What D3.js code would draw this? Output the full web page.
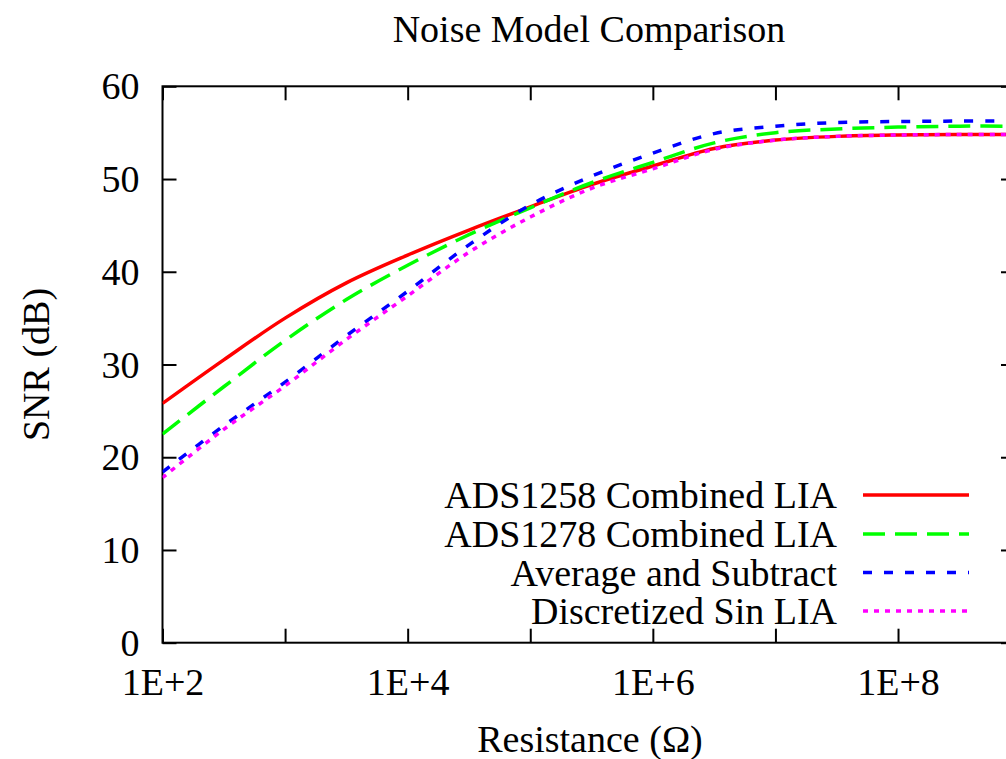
<!DOCTYPE html>
<html>
<head>
<meta charset="utf-8">
<script src="https://cdn.jsdelivr.net/npm/d3@7/dist/d3.min.js"></script>
<style>
  html, body { margin: 0; padding: 0; background: #fff; }
  svg { display: block; }
</style>
</head>
<body>
<svg id="chart" width="1006" height="759"></svg>
<script>
// Resistance sample points (ohms), half-decade steps
const resistance = [100, 316, 1000, 3162, 10000, 31623, 100000, 316228, 1000000,
  3162278, 10000000, 31622777, 100000000, 316227766, 1000000000];

// SNR (dB) for each noise model
const snrADS1258 = [25.8, 30.5, 35.0, 38.8, 41.8, 44.5, 47.0, 49.4, 51.4, 53.3, 54.2, 54.6, 54.75, 54.8, 54.8];
const snrADS1278 = [22.5, 27.6, 32.6, 37.0, 40.7, 44.0, 46.9, 49.6, 51.8, 53.9, 55.0, 55.4, 55.6, 55.7, 55.7];
const snrAvgSub  = [18.4, 23.4, 28.1, 33.1, 37.9, 42.9, 47.2, 50.3, 52.8, 54.9, 55.7, 56.1, 56.2, 56.25, 56.25];
const snrDiscSin = [17.8, 23.0, 27.7, 32.7, 37.4, 42.1, 45.9, 49.0, 51.1, 53.2, 54.2, 54.6, 54.75, 54.8, 54.8];

const seriesNames = ["ADS1258 Combined LIA", "ADS1278 Combined LIA", "Average and Subtract", "Discretized Sin LIA"];
const seriesColors = ["#ff0000", "#00ff00", "#0000ff", "#ff00ff"];
const seriesDashes = [null, "22,10", "9,12", "5,6"];

const xTickValues = [1e2, 1e3, 1e4, 1e5, 1e6, 1e7, 1e8];
const xTickLabels = ["1E+2", "", "1E+4", "", "1E+6", "", "1E+8"];
const yTickValues = [0, 10, 20, 30, 40, 50, 60];

const titleText = "Noise Model Comparison";
const xTitle = "Resistance (\u03A9)";
const yTitle = "SNR (dB)";

const svg = d3.select("#chart");
const fontSize = 38;
const fontFamily = "'Liberation Serif', 'Times New Roman', serif";

const plotLeft = 162.5, plotTop = 86.3, plotBottom = 642.7, plotRight = 1015;
const x = d3.scaleLog().domain([1e2, 9e8]).range([plotLeft, plotRight]);
const y = d3.scaleLinear().domain([0, 60]).range([plotBottom, plotTop]);

const tickLen = 14;

const label = sel => sel.style("font-family", fontFamily)
  .style("font-size", fontSize + "px").attr("fill", "#000");

// clip for plotted curves
svg.append("defs").append("clipPath").attr("id", "plotClip")
  .append("rect").attr("x", plotLeft).attr("y", plotTop)
  .attr("width", plotRight - plotLeft).attr("height", plotBottom - plotTop);

// axes (ticks point inward on all four sides)
const axisStyle = g => {
  g.attr("font-family", null).attr("font-size", null);
  g.select(".domain").remove();
  g.selectAll(".tick line").attr("stroke", "#000").attr("stroke-width", 2);
  g.selectAll(".tick text").call(label);
};

svg.append("g").attr("transform", `translate(0,${plotBottom})`)
  .call(d3.axisBottom(x).tickValues(xTickValues)
    .tickFormat((d, i) => xTickLabels[i]).tickSizeInner(-tickLen).tickSizeOuter(0).tickPadding(0))
  .call(axisStyle)
  .call(g => g.selectAll(".tick text").attr("y", 52).attr("dy", null));

svg.append("g").attr("transform", `translate(0,${plotTop})`)
  .call(d3.axisTop(x).tickValues(xTickValues).tickFormat("").tickSizeInner(-tickLen).tickSizeOuter(0))
  .call(axisStyle);

svg.append("g").attr("transform", `translate(${plotLeft},0)`)
  .call(d3.axisLeft(y).tickValues(yTickValues).tickFormat(d3.format("d"))
    .tickSizeInner(-tickLen).tickSizeOuter(0).tickPadding(0))
  .call(axisStyle)
  .call(g => g.selectAll(".tick text").attr("x", -23).attr("dy", "0.33em"));

svg.append("g").attr("transform", `translate(${plotRight},0)`)
  .call(d3.axisRight(y).tickValues(yTickValues).tickFormat("").tickSizeInner(-tickLen).tickSizeOuter(0))
  .call(axisStyle);

// plot border
svg.append("rect").attr("x", plotLeft).attr("y", plotTop)
  .attr("width", plotRight - plotLeft).attr("height", plotBottom - plotTop)
  .attr("fill", "none").attr("stroke", "#000").attr("stroke-width", 2);

// curves
const allSeries = [snrADS1258, snrADS1278, snrAvgSub, snrDiscSin];
const line = d3.line()
  .x(d => x(d[0])).y(d => y(d[1]))
  .curve(d3.curveCatmullRom.alpha(0.5));

const curves = svg.append("g").attr("clip-path", "url(#plotClip)");
allSeries.forEach((vals, i) => {
  const pts = resistance.map((r, k) => [r, vals[k]]);
  curves.append("path")
    .attr("d", line(pts))
    .attr("fill", "none")
    .attr("stroke", seriesColors[i])
    .attr("stroke-width", 3.5)
    .attr("stroke-dasharray", seriesDashes[i])
    .attr("stroke-linejoin", "round");
});

// legend
const legend = svg.append("g");
const legendRowY = [495, 534, 572.5, 611];
seriesNames.forEach((name, i) => {
  legend.append("text")
    .attr("x", 837).attr("y", legendRowY[i] + 13)
    .attr("text-anchor", "end")
    .call(label)
    .text(name);
  legend.append("line")
    .attr("x1", 863).attr("x2", 969)
    .attr("y1", legendRowY[i]).attr("y2", legendRowY[i])
    .attr("stroke", seriesColors[i])
    .attr("stroke-width", 3.5)
    .attr("stroke-dasharray", seriesDashes[i]);
});

// titles
svg.append("text").attr("x", 589).attr("y", 42)
  .attr("text-anchor", "middle").call(label).text(titleText);

svg.append("text").attr("x", 590).attr("y", 752)
  .attr("text-anchor", "middle").call(label).text(xTitle);

svg.append("text")
  .attr("transform", `translate(49,${(plotTop + plotBottom) / 2}) rotate(-90)`)
  .attr("text-anchor", "middle").call(label).text(yTitle);
</script>
</body>
</html>
